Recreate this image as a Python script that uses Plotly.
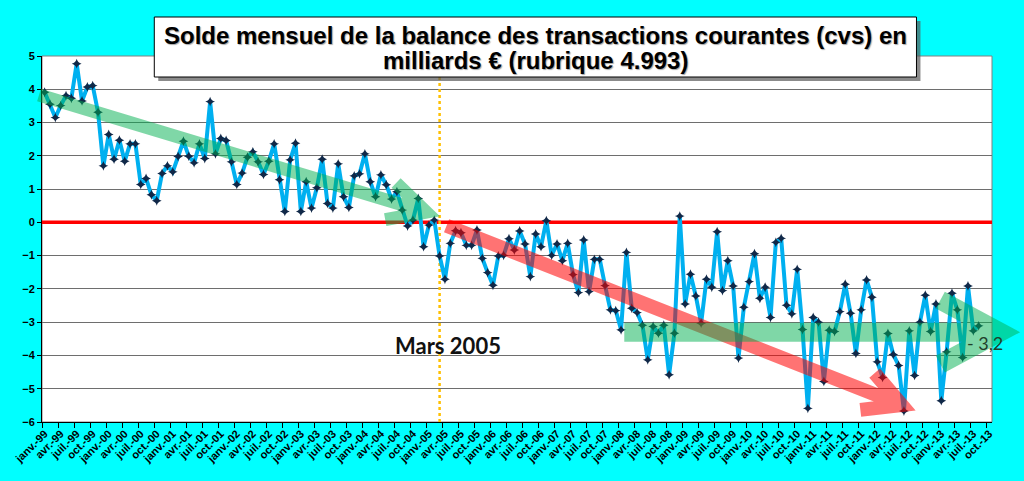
import math
import plotly.graph_objects as go

# Solde mensuel de la balance des transactions courantes (cvs), milliards d'euros
MOIS = ["janv.", "févr.", "mars", "avr.", "mai", "juin",
        "juil.", "août", "sept.", "oct.", "nov.", "déc."]
ANNEES = list(range(1999, 2014))
categories = [f"{m}-{a % 100:02d}" for a in ANNEES for m in MOIS][:178]  # janv.-99 .. oct.-13

solde = [
    3.91, 3.55, 3.15, 3.51, 3.81, 3.73, 4.77, 3.65, 4.07, 4.11,
    3.31, 1.70, 2.64, 1.90, 2.47, 1.84, 2.36, 2.36, 1.14, 1.32,
    0.83, 0.65, 1.47, 1.70, 1.52, 1.98, 2.44, 1.99, 1.79, 2.36,
    1.92, 3.63, 2.06, 2.52, 2.46, 1.82, 1.14, 1.48, 1.96, 2.12,
    1.82, 1.44, 1.84, 2.36, 1.28, 0.33, 1.88, 2.38, 0.33, 1.22,
    0.43, 1.04, 1.90, 0.57, 0.43, 1.76, 0.77, 0.45, 1.40, 1.46,
    2.06, 1.22, 0.77, 1.43, 1.13, 0.70, 0.92, 0.37, -0.11, 0.07,
    0.72, -0.73, -0.08, 0.07, -1.01, -1.71, -0.63, -0.25, -0.31, -0.69,
    -0.69, -0.23, -1.08, -1.51, -1.89, -1.01, -0.99, -0.49, -0.83, -0.26,
    -0.65, -1.63, -0.35, -0.73, 0.05, -0.99, -0.65, -1.15, -0.63, -1.57,
    -2.11, -0.53, -2.08, -1.11, -1.11, -1.90, -2.63, -2.65, -3.23, -0.90,
    -2.58, -2.71, -3.09, -4.13, -3.13, -3.33, -3.09, -4.58, -3.33, 0.19,
    -2.45, -1.56, -2.21, -3.03, -1.71, -1.95, -0.28, -2.05, -1.15, -1.91,
    -4.08, -2.55, -1.78, -0.94, -2.28, -1.95, -2.86, -0.60, -0.48, -2.49,
    -2.75, -1.41, -3.22, -5.59, -2.86, -3.00, -4.78, -3.24, -3.28, -2.68,
    -1.86, -2.73, -3.94, -2.63, -1.73, -2.25, -4.19, -4.66, -3.34, -3.97,
    -4.30, -5.67, -3.26, -4.60, -3.00, -2.19, -3.28, -2.45, -5.36, -3.89,
    -2.13, -2.63, -4.06, -1.91, -3.26, -3.11,
]
x_idx = list(range(len(solde)))
tick_idx = list(range(0, len(categories), 3))
tick_labels = [categories[i] for i in tick_idx]
boundaries = [i - 0.5 for i in tick_idx]

mars_2005 = categories.index("mars-05")
dernier = "- 3,2"

# plot geometry (px)
W, H = 1024, 481
ML, MR, MT, MB = 36, 32, 56, 59
PW, PH = W - ML - MR, H - MT - MB
XR = [-0.5, len(categories) - 0.5]
YR = [-6, 5]


def to_px(x, y):
    return (ML + (x - XR[0]) / (XR[1] - XR[0]) * PW,
            MT + (YR[1] - y) / (YR[1] - YR[0]) * PH)


def to_paper(px, py):
    return (px - ML) / PW, (MT + PH - py) / PH


def pp(px, py):
    u, v = to_paper(px, py)
    return f"{u:.5f},{v:.5f}"


def arrow_path(start, end, arm, half_deg):
    x0, y0 = to_px(*start)
    x1, y1 = to_px(*end)
    back = math.atan2(y1 - y0, x1 - x0) + math.pi
    arms = [(x1 + arm * math.cos(back + s * math.radians(half_deg)),
             y1 + arm * math.sin(back + s * math.radians(half_deg))) for s in (1, -1)]
    return (f"M{pp(x0, y0)} L{pp(x1, y1)} "
            f"M{pp(*arms[0])} L{pp(x1, y1)} L{pp(*arms[1])}")


GREEN = "rgba(0,176,80,0.5)"
RED = "rgba(255,0,0,0.55)"

fig = go.Figure()
fig.add_trace(go.Scatter(
    x=x_idx, y=solde, mode="lines+markers",
    line=dict(color="#00B0F0", width=4),
    marker=dict(symbol="star-diamond", size=7, color="#102848"),
    hoverinfo="skip", showlegend=False,
))

shapes = [
    # ligne zéro
    dict(type="line", xref="x", yref="y", x0=XR[0], x1=XR[1], y0=0, y1=0,
         line=dict(color="#FF0000", width=3.5), layer="between"),
    # mars 2005
    dict(type="line", xref="x", yref="y", x0=mars_2005, x1=mars_2005, y0=YR[0], y1=YR[1],
         line=dict(color="#FFC000", width=2.5, dash="dot"), layer="between"),
    # cadre
    dict(type="rect", xref="paper", yref="paper", x0=0, x1=1, y0=0, y1=1,
         line=dict(color="#808080", width=1), fillcolor="rgba(0,0,0,0)", layer="between"),
    # flèches de tendance
    dict(type="path", xref="paper", yref="paper",
         path=arrow_path((-1.06, 3.83), (71.5, 0.31), 42, 27),
         line=dict(color=GREEN, width=13), fillcolor="rgba(0,0,0,0)", layer="above"),
    dict(type="path", xref="paper", yref="paper",
         path=arrow_path((75.3, -0.10), (160.6, -5.49), 42, 28),
         line=dict(color=RED, width=14), fillcolor="rgba(0,0,0,0)", layer="above"),
    dict(type="path", xref="paper", yref="paper",
         path=arrow_path((108.6, -3.30), (179.0, -3.30), 68, 28),
         line=dict(color=GREEN, width=19), fillcolor="rgba(0,0,0,0)", layer="above"),
]

# encadré du titre
bx0, by0, bx1, by1 = 149, 17, 916, 77
sx0, sy0 = to_paper(bx0 + 4, by0 + 4)
sx1, sy1 = to_paper(bx1 + 4, by1 + 4)
shapes.append(dict(type="rect", xref="paper", yref="paper", x0=sx0, x1=sx1, y0=sy0, y1=sy1,
                   line=dict(width=0), fillcolor="rgba(90,90,90,0.7)", layer="above"))
tx0, ty0 = to_paper(bx0, by0)
tx1, ty1 = to_paper(bx1, by1)
shapes.append(dict(type="rect", xref="paper", yref="paper", x0=tx0, x1=tx1, y0=ty0, y1=ty1,
                   line=dict(color="black", width=1), fillcolor="white", layer="above"))

title_font = dict(family="Liberation Sans, Arial", size=24, color="black", weight="bold",
                  shadow="1px 1px 1px rgba(0,0,0,0.35)")
cx = (bx0 + bx1) / 2
annotations = [
    dict(xref="paper", yref="paper", x=to_paper(cx, 35)[0], y=to_paper(cx, 35)[1],
         text="Solde mensuel de la balance des transactions courantes (cvs) en",
         showarrow=False, font=title_font, xanchor="center", yanchor="middle"),
    dict(xref="paper", yref="paper", x=to_paper(cx, 60)[0], y=to_paper(cx, 60)[1],
         text="milliards € (rubrique 4.993)",
         showarrow=False, font=title_font, xanchor="center", yanchor="middle"),
    dict(xref="x", yref="y", x=75.6, y=-3.70, text="Mars 2005", showarrow=False,
         font=dict(family="Lato", size=22, color="#111111", weight="bold")),
    dict(xref="x", yref="y", x=176.1, y=-3.63, text=dernier, showarrow=False,
         font=dict(family="Lato", size=18, color="#1f3f2a")),
]

fig.update_layout(
    width=W, height=H, autosize=False,
    margin=dict(l=ML, r=MR, t=MT, b=MB, pad=0),
    paper_bgcolor="#00FFFF", plot_bgcolor="white",
    shapes=shapes, annotations=annotations,
    xaxis=dict(
        range=XR, showgrid=False, zeroline=False,
        showline=True, linecolor="black", linewidth=1,
        tickmode="array", tickvals=tick_idx, ticktext=tick_labels,
        ticks="", tickangle=-45,
        tickfont=dict(family="Liberation Sans, Arial", size=11, color="black", weight="bold"),
        minor=dict(tickmode="array", tickvals=boundaries, ticks="outside",
                   ticklen=5, tickcolor="black", tickwidth=1, showgrid=False),
    ),
    yaxis=dict(
        range=YR, dtick=1, tick0=0, showgrid=True, gridcolor="#6e6e6e", gridwidth=1.3,
        zeroline=False, showline=True, linecolor="black", linewidth=1,
        ticks="outside", ticklen=4, tickcolor="black",
        tickfont=dict(family="Liberation Sans, Arial", size=11, color="black", weight="bold"),
    ),
)

fig.write_html("out.html", config=dict(displayModeBar=False),
               post_script="document.body.style.margin='0';")
